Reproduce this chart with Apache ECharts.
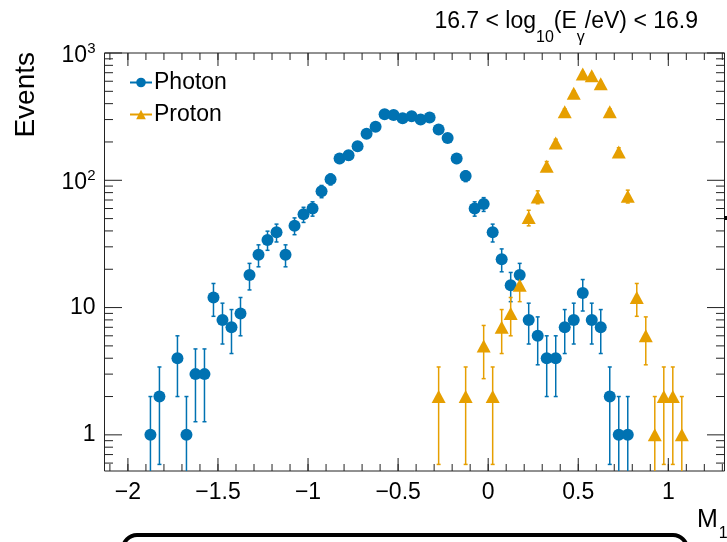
<!DOCTYPE html>
<html>
<head>
<meta charset="utf-8">
<script src="https://cdn.jsdelivr.net/npm/echarts@6/dist/echarts.min.js"></script>
<style>
  html, body { margin: 0; padding: 0; background: #fff; }
  #chart { width: 727px; height: 542px; }
</style>
</head>
<body>
<div id="chart"></div>
<script>
// Bin centres (M1) and event counts per bin
const photonM1 = [-1.875, -1.825, -1.725, -1.675, -1.625, -1.575, -1.525, -1.475, -1.425, -1.375,
  -1.325, -1.275, -1.225, -1.175, -1.125, -1.075, -1.025, -0.975, -0.925, -0.875,
  -0.825, -0.775, -0.725, -0.675, -0.625, -0.575, -0.525, -0.475, -0.425, -0.375,
  -0.325, -0.275, -0.225, -0.175, -0.125, -0.075, -0.025, 0.025, 0.075, 0.125,
  0.175, 0.225, 0.275, 0.325, 0.375, 0.425, 0.475, 0.525, 0.575, 0.625,
  0.675, 0.725, 0.775];
const photonEvents = [1, 2, 4, 1, 3, 3, 12, 8, 7, 9,
  18, 26, 34, 39, 26, 44, 54, 60, 82, 102,
  148, 157, 185, 232, 263, 330, 326, 307, 319, 300,
  311, 251, 215, 148, 108, 60, 65, 39, 24, 15,
  18, 8, 6, 4, 4, 7, 8, 13, 8, 7,
  2, 1, 1];
const protonM1 = [-0.275, -0.125, -0.025, 0.025, 0.075, 0.125, 0.175, 0.225, 0.275, 0.325,
  0.375, 0.425, 0.475, 0.525, 0.575, 0.625, 0.675, 0.725, 0.775, 0.825,
  0.875, 0.925, 0.975, 1.025, 1.075];
const protonEvents = [2, 2, 5, 2, 7, 9, 15, 51, 74, 129,
  196, 345, 482, 683, 663, 573, 345, 167, 75, 12,
  6, 1, 2, 2, 1];

// Axis tick labels
const xTickValues = [-2, -1.5, -1, -0.5, 0, 0.5, 1];
const yTickValues = [1, 10, 100, 1000];
const yMinorTickValues = [0.6, 0.7, 0.8, 0.9, 2, 3, 4, 5, 6, 7, 8, 9,
  20, 30, 40, 50, 60, 70, 80, 90, 200, 300, 400, 500, 600, 700, 800, 900];

const X_MIN = -2.13, X_MAX = 1.312, Y_MIN = 0.52, Y_MAX = 1000;
const BLUE = '#0072B2', ORANGE = '#E69F00', AXIS = '#222';
const FONT = '"Liberation Sans", Arial, Helvetica, sans-serif';

// minor x ticks every 0.1
const xMinorTickValues = [];
for (let i = -21; i <= 13; i++) xMinorTickValues.push(i / 10);

function points(xs, ys) { return xs.map((x, i) => [x, ys[i]]); }
// sqrt(N) error bars, lower end clipped at the frame
function errorRows(xs, ys) {
  return xs.map((x, i) => {
    const e = Math.sqrt(ys[i]);
    const lo = ys[i] - e;
    return [x, ys[i], lo > Y_MIN ? lo : Y_MIN, ys[i] + e, lo > Y_MIN ? 1 : 0];
  });
}

function errorBar(color) {
  return function (params, api) {
    const x = api.value(0);
    const top = api.coord([x, api.value(3)]);
    const bot = api.coord([x, api.value(2)]);
    const st = { stroke: color, lineWidth: 1.5 };
    const c = 2;
    const kids = [
      { type: 'line', shape: { x1: top[0], y1: top[1], x2: bot[0], y2: bot[1] }, style: st },
      { type: 'line', shape: { x1: top[0] - c, y1: top[1], x2: top[0] + c, y2: top[1] }, style: st }
    ];
    if (api.value(4)) kids.push({ type: 'line', shape: { x1: bot[0] - c, y1: bot[1], x2: bot[0] + c, y2: bot[1] }, style: st });
    return { type: 'group', children: kids };
  };
}

// ticks on all four sides of the frame, pointing inwards
function xTicks(params, api) {
  const cs = params.coordSys;
  const p = api.coord([api.value(0), Y_MIN]);
  const len = api.value(2);
  const st = { stroke: AXIS, lineWidth: 1 };
  return { type: 'group', children: [
    { type: 'line', shape: { x1: p[0], y1: cs.y + cs.height, x2: p[0], y2: cs.y + cs.height - len }, style: st },
    { type: 'line', shape: { x1: p[0], y1: cs.y, x2: p[0], y2: cs.y + len }, style: st }
  ] };
}
function yTicks(params, api) {
  const cs = params.coordSys;
  const p = api.coord([X_MIN, api.value(1)]);
  const len = api.value(2);
  const st = { stroke: AXIS, lineWidth: 1 };
  return { type: 'group', children: [
    { type: 'line', shape: { x1: cs.x, y1: p[1], x2: cs.x + len, y2: p[1] }, style: st },
    { type: 'line', shape: { x1: cs.x + cs.width, y1: p[1], x2: cs.x + cs.width - len, y2: p[1] }, style: st }
  ] };
}

const xTickData = xMinorTickValues.map(v => [v, Y_MIN, 7]).concat(xTickValues.map(v => [v, Y_MIN, 13]));
const yTickData = yMinorTickValues.map(v => [X_MIN, v, 8.5]).concat(yTickValues.map(v => [X_MIN, v, 17.5]));

const chart = echarts.init(document.getElementById('chart'), null, { renderer: 'canvas' });

chart.setOption({
  animation: false,
  backgroundColor: '#fff',
  textStyle: { fontFamily: FONT },
  title: {
    text: '{m|16.7 < log}{s|10}{m|(E}{s|γ}{m|/eV) < 16.9}',
    right: 29, top: 10, padding: 0,
    textStyle: {
      fontFamily: FONT, fontWeight: 'normal', color: '#000',
      rich: {
        m: { fontFamily: FONT, fontSize: 23, lineHeight: 26, verticalAlign: 'top', color: '#000' },
        s: { fontFamily: FONT, fontSize: 16, lineHeight: 16, padding: [20, 0, 0, 0], verticalAlign: 'top', color: '#000' }
      }
    }
  },
  legend: {
    data: ['Photon', 'Proton'],
    orient: 'vertical',
    left: 129, top: 71, padding: 0,
    itemWidth: 22, itemHeight: 12, itemGap: 9,
    selectedMode: false,
    lineStyle: { opacity: 1, width: 2 },
    textStyle: { fontFamily: FONT, fontSize: 23, color: '#000', padding: [0, 0, 0, -3] }
  },
  grid: {
    left: 104.5, right: 2.5, top: 53, bottom: 71,
    show: true, borderColor: AXIS, borderWidth: 1, backgroundColor: 'transparent',
    outerBoundsMode: 'none'
  },
  xAxis: {
    type: 'value', min: X_MIN, max: X_MAX,
    axisLine: { show: false }, axisTick: { show: false }, splitLine: { show: false },
    axisLabel: {
      customValues: xTickValues,
      margin: 10,
      fontFamily: FONT, fontSize: 23, color: '#000',
      showMinLabel: true, showMaxLabel: true,
      formatter: v => {
        const hit = xTickValues.find(t => Math.abs(t - v) < 1e-6);
        return hit === undefined ? '' : String(hit).replace('-', '\u2212');
      }
    }
  },
  yAxis: {
    type: 'log', logBase: 10, min: Y_MIN, max: Y_MAX,
    axisLine: { show: false }, axisTick: { show: false }, splitLine: { show: false },
    axisLabel: {
      margin: 9,
      fontFamily: FONT, fontSize: 23, color: '#000',
      formatter: v => {
        const hit = yTickValues.find(t => Math.abs(t - v) < 1e-6 * t);
        if (hit === undefined) return '';
        if (hit < 100) return '{n|' + hit + '}';
        return '{b|10}{p|' + Math.round(Math.log10(hit)) + '}';
      },
      rich: {
        n: { fontFamily: FONT, fontSize: 23, color: '#000' },
        b: { fontFamily: FONT, fontSize: 23, lineHeight: 24, padding: [3, 0, 0, 0], verticalAlign: 'top', color: '#000' },
        p: { fontFamily: FONT, fontSize: 15, lineHeight: 15, verticalAlign: 'top', color: '#000' }
      }
    }
  },
  series: [
    { type: 'custom', name: 'xticks', silent: true, z: 1, renderItem: xTicks, data: xTickData },
    { type: 'custom', name: 'yticks', silent: true, z: 1, renderItem: yTicks, data: yTickData },
    { type: 'custom', name: 'photonErr', silent: true, z: 2, renderItem: errorBar(BLUE), data: errorRows(photonM1, photonEvents) },
    { type: 'custom', name: 'protonErr', silent: true, z: 2, renderItem: errorBar(ORANGE), data: errorRows(protonM1, protonEvents) },
    {
      type: 'line', name: 'Photon', data: points(photonM1, photonEvents), z: 3,
      symbol: 'circle', symbolSize: 12, showSymbol: true, showAllSymbol: true,
      itemStyle: { color: BLUE }, lineStyle: { opacity: 0, color: BLUE },
      silent: true, emphasis: { disabled: true }
    },
    {
      type: 'line', name: 'Proton', data: points(protonM1, protonEvents), z: 3,
      symbol: 'triangle', symbolSize: [14, 13], showSymbol: true, showAllSymbol: true,
      itemStyle: { color: ORANGE }, lineStyle: { opacity: 0, color: ORANGE },
      silent: true, emphasis: { disabled: true }
    }
  ],
  graphic: [
    {
      type: 'text', x: 26, y: 52, rotation: Math.PI / 2, silent: true,
      style: { text: 'Events', font: '28px ' + FONT, fill: '#000', align: 'right', verticalAlign: 'middle' }
    },
    {
      type: 'text', x: 697, y: 508, silent: true,
      style: {
        text: '{m|M}{s|1}', fill: '#000',
        rich: {
          m: { fontFamily: FONT, fontSize: 25, lineHeight: 26, verticalAlign: 'top', fill: '#000' },
          s: { fontFamily: FONT, fontSize: 16, lineHeight: 16, padding: [18, 0, 0, 1], verticalAlign: 'top', fill: '#000' }
        }
      }
    },
    {
      type: 'rect', silent: true,
      shape: { x: 123, y: 535, width: 564, height: 40, r: 14 },
      style: { fill: null, stroke: '#000', lineWidth: 4 }
    },
    {
      type: 'rect', silent: true,
      shape: { x: 724, y: 216, width: 3, height: 4 },
      style: { fill: '#000' }
    }
  ]
});
</script>
</body>
</html>
